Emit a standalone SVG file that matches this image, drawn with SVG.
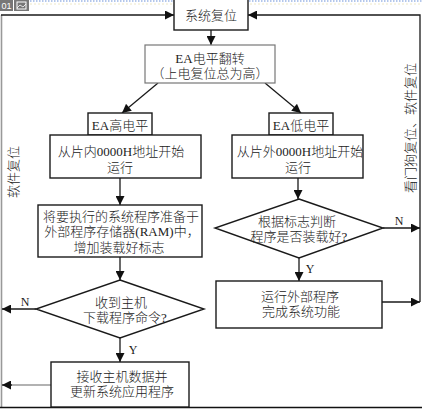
<svg xmlns="http://www.w3.org/2000/svg" width="422" height="409" viewBox="0 0 422 409">
<defs>
<style>
.box{fill:#fff;stroke:#1a1a1a;stroke-width:1.4}
.gbox{fill:#fff;stroke:#777;stroke-width:1.2}
.t{font-family:"Liberation Serif","Noto Sans CJK SC",serif;font-size:13px;font-weight:300;fill:#222;text-anchor:middle}
.lab{font-family:"Liberation Serif","Noto Sans CJK SC",serif;font-size:12px;fill:#1a1a1a;text-anchor:middle}
.c{fill:none;stroke:#1a1a1a;stroke-width:1.3}
.g{fill:none;stroke:#999;stroke-width:1.6}
</style>
<marker id="ah" viewBox="0 0 10 10" refX="10" refY="5" markerWidth="10" markerHeight="9" markerUnits="userSpaceOnUse" orient="auto">
<path d="M0,0 L10,5 L0,10 Z" fill="#111"/>
</marker>
</defs>
<rect x="0" y="0" width="422" height="409" fill="#fff"/>
<g id="badge">
<rect x="0" y="0" width="13" height="11" fill="#777"/>
<text x="6.5" y="9" font-family="Liberation Sans, sans-serif" font-size="9" fill="#fff" text-anchor="middle">01</text>
<rect x="14" y="0" width="15" height="11" fill="#777"/>
<rect x="17" y="2" width="9" height="7" fill="none" stroke="#fff" stroke-width="1"/>
<polyline points="17,8 20,5 23,7 26,4" fill="none" stroke="#fff" stroke-width="0.8"/>
<line x1="30" y1="1" x2="422" y2="1" stroke="#6a8fd8" stroke-width="1.2" stroke-dasharray="1.5,1.5"/>
<line x1="30" y1="4" x2="422" y2="4" stroke="#eee8c8" stroke-width="1" stroke-dasharray="2,2"/>
</g>
<g id="connectors">
<line class="g" x1="1.5" y1="15" x2="1.5" y2="407"/>
<path class="c" d="M1,15 L174,15" marker-end="url(#ah)"/>
<path class="c" d="M420,302 L420,15 L248,15" marker-end="url(#ah)"/>
<path class="c" d="M211,30 L211,45" marker-end="url(#ah)"/>
<path class="c" d="M158,83 L122,113" marker-end="url(#ah)"/>
<path class="c" d="M265,83 L301,113" marker-end="url(#ah)"/>
<path class="c" d="M120,178 L120,205" marker-end="url(#ah)"/>
<path class="c" d="M120,257 L120,280" marker-end="url(#ah)"/>
<path class="c" d="M36,309 L2,309" marker-end="url(#ah)"/>
<path class="c" d="M120,338 L120,362" marker-end="url(#ah)"/>
<path class="g" d="M51,385 L10,385"/>
<path class="c" d="M12,385 L2,385" marker-end="url(#ah)"/>
<path class="c" d="M298,178 L298,199" marker-end="url(#ah)"/>
<path class="c" d="M383,228 L420,228" marker-end="url(#ah)"/>
<path class="c" d="M299,258 L299,281" marker-end="url(#ah)"/>
<path class="c" d="M382,302 L420,302" marker-end="url(#ah)"/>
<line x1="0" y1="407.5" x2="422" y2="407.5" stroke="#111" stroke-width="1.6"/>
<text class="lab" x="25" y="306">N</text>
<text class="lab" x="133" y="354">Y</text>
<text class="lab" x="399" y="225">N</text>
<text class="lab" x="310" y="273">Y</text>
<text class="t" transform="translate(13,172) rotate(-90)" y="4.5">软件复位</text>
<text class="t" transform="translate(410,128) rotate(-90)" y="4.5">看门狗复位、软件复位</text>
</g>
<g id="reset">
<rect class="box" x="174" y="-1" width="74" height="31"/>
<text class="t" x="211" y="20">系统复位</text>
</g>
<g id="ea-flip">
<rect class="gbox" x="145" y="45" width="130" height="38"/>
<text class="t" x="210" y="63">EA电平翻转</text>
<text class="t" x="210" y="78">（上电复位总为高）</text>
</g>
<g id="ea-high">
<rect class="box" x="88" y="113" width="64" height="22"/>
<text class="t" x="120" y="130">EA高电平</text>
</g>
<g id="run-internal">
<rect class="box" x="50" y="135" width="151" height="43"/>
<text class="t" x="121" y="156">从片内0000H地址开始</text>
<text class="t" x="120" y="172">运行</text>
</g>
<g id="ea-low">
<rect class="box" x="269" y="113" width="64" height="22"/>
<text class="t" x="301" y="130">EA低电平</text>
</g>
<g id="run-external">
<rect class="box" x="232" y="135" width="131" height="43"/>
<text class="t" x="300" y="156">从片外0000H地址开始</text>
<text class="t" x="298" y="172">运行</text>
</g>
<g id="prepare">
<rect class="box" x="38" y="205" width="164" height="52"/>
<text class="t" x="121" y="221">将要执行的系统程序准备于</text>
<text class="t" x="122" y="236">外部程序存储器(RAM)中，</text>
<text class="t" x="119" y="252">增加装载好标志</text>
</g>
<g id="check-loaded">
<polygon class="box" points="299,199 383,228 299,258 215,228"/>
<text class="t" x="297" y="226">根据标志判断</text>
<text class="t" x="299" y="241">程序是否装载好?</text>
</g>
<g id="check-cmd">
<polygon class="box" points="120,280 204,309 120,338 36,309"/>
<text class="t" x="121" y="307">收到主机</text>
<text class="t" x="125" y="322">下载程序命令?</text>
</g>
<g id="run-app">
<rect class="box" x="216" y="281" width="166" height="47"/>
<text class="t" x="300" y="301">运行外部程序</text>
<text class="t" x="301" y="316">完成系统功能</text>
</g>
<g id="receive">
<rect class="box" x="51" y="362" width="138" height="45"/>
<text class="t" x="122" y="381">接收主机数据并</text>
<text class="t" x="122" y="396">更新系统应用程序</text>
</g>
</svg>
